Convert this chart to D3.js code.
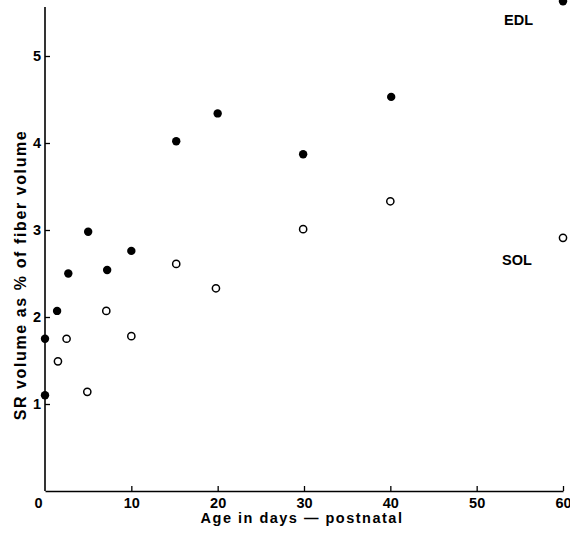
<!DOCTYPE html>
<html>
<head>
<meta charset="utf-8">
<script src="https://cdn.jsdelivr.net/npm/d3@7"></script>
<style>
  body { margin: 0; background: #fff; }
  text { font-family: "Liberation Sans", Arial, sans-serif; font-weight: bold; fill: #000; }
</style>
</head>
<body>
<div id="chart"></div>
<script>

// data
var edlDays  = [0, 0, 1.4, 2.7, 5, 7.2, 10, 15.2, 20, 29.9, 40.1, 60];
var edlValue = [1.75, 1.10, 2.07, 2.50, 2.98, 2.54, 2.76, 4.02, 4.34, 3.87, 4.53, 5.63];
var solDays  = [1.5, 2.5, 4.9, 7.1, 10, 15.2, 19.8, 29.9, 40, 60];
var solValue = [1.49, 1.75, 1.14, 2.07, 1.78, 2.61, 2.33, 3.01, 3.33, 2.91];
var xTicks = [0, 10, 20, 30, 40, 50, 60];
var yTicks = [1, 2, 3, 4, 5];

var width = 570, height = 533;
var margin = {top: 0, right: 7, bottom: 42, left: 45};

var svg = d3.select("#chart")
  .append("svg")
    .attr("width", width)
    .attr("height", height);

var x = d3.scaleLinear()
  .domain([0, 60])
  .range([margin.left, 563]);

var y = d3.scaleLinear()
  .domain([0, 5])
  .range([491, 56]);

// x axis
var xAxis = svg.append("g")
  .attr("transform", "translate(0,491)")
  .call(d3.axisBottom(x).tickValues(xTicks).tickSize(0).tickPadding(7).tickFormat(d3.format("d")));
xAxis.select(".domain").attr("stroke", "#000").attr("stroke-width", 1.6);
xAxis.selectAll(".tick text").style("font-size", "14.5px").attr("dx", function(d) { return d === 0 ? "-7" : "0"; });
xAxis.selectAll(".tick").filter(function(d) { return d > 0; }).append("line")
  .attr("y1", 0).attr("y2", -5).attr("stroke", "#000").attr("stroke-width", 1.3);

// y axis
var yAxis = svg.append("g")
  .attr("transform", "translate(" + margin.left + ",0)")
  .call(d3.axisLeft(y).tickValues(yTicks).tickSize(0).tickPadding(4).tickFormat(d3.format("d")));
yAxis.select(".domain").remove();
yAxis.append("line")
  .attr("x1", 0).attr("x2", 0)
  .attr("y1", 7).attr("y2", 491)
  .attr("stroke", "#000").attr("stroke-width", 1.6);
yAxis.selectAll(".tick text").style("font-size", "14.5px");
yAxis.selectAll(".tick").append("line")
  .attr("x1", 0).attr("x2", 5).attr("stroke", "#000").attr("stroke-width", 1.3);

// axis titles
svg.append("text")
  .attr("x", 302)
  .attr("y", 523)
  .attr("text-anchor", "middle")
  .style("font-size", "14.5px")
  .style("letter-spacing", "1.5px")
  .text("Age in  days \u2014 postnatal");

svg.append("text")
  .attr("transform", "translate(26,275) rotate(-90)")
  .attr("text-anchor", "middle")
  .style("font-size", "16px")
  .style("letter-spacing", "1.6px")
  .text("SR volume as % of fiber volume");

// EDL (filled)
svg.selectAll(".edl")
  .data(edlDays.map(function(d, i) { return {day: d, v: edlValue[i]}; }))
  .enter()
  .append("circle")
    .attr("class", "edl")
    .attr("cx", function(d) { return x(d.day); })
    .attr("cy", function(d) { return y(d.v); })
    .attr("r", 4.2)
    .attr("fill", "#000");

// SOL (open)
svg.selectAll(".sol")
  .data(solDays.map(function(d, i) { return {day: d, v: solValue[i]}; }))
  .enter()
  .append("circle")
    .attr("class", "sol")
    .attr("cx", function(d) { return x(d.day); })
    .attr("cy", function(d) { return y(d.v); })
    .attr("r", 3.6)
    .attr("fill", "#fff")
    .attr("stroke", "#000")
    .attr("stroke-width", 1.5);

// series labels
svg.append("text")
  .attr("x", 504).attr("y", 25)
  .style("font-size", "14.5px")
  .text("EDL");

svg.append("text")
  .attr("x", 502).attr("y", 265)
  .style("font-size", "14.5px")
  .text("SOL");

</script>
</body>
</html>
